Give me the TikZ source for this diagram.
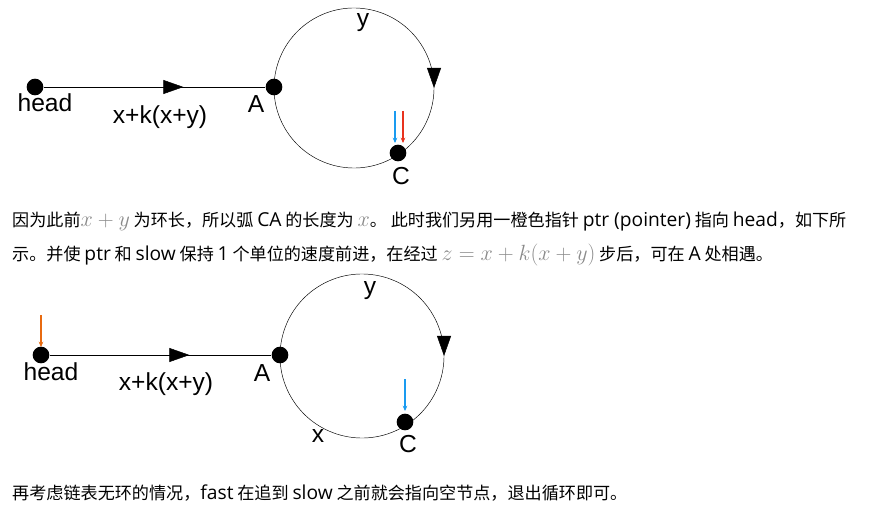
\RequirePackage{fix-cm}
\documentclass[tikz,border=0pt]{standalone}
\usepackage{fontspec}
\setmainfont{Liberation Sans}
\newfontfamily\cjk{Noto Sans CJK SC}
\newfontfamily\lat{Open Sans}
\usepackage{xcolor}
\usetikzlibrary{positioning, arrows.meta, decorations.markings}
\definecolor{ptrblue}{HTML}{1A9BF0}
\definecolor{ptrred}{HTML}{E8321E}
\definecolor{ptrorange}{HTML}{E86A10}
\definecolor{mathgray}{HTML}{8A8A8A}
\newcommand{\mgray}[1]{{\fontsize{18.8}{19}\selectfont\textcolor{mathgray}{$#1$}}}
\newcommand{\en}[1]{{\lat\fontsize{16.4}{18}\selectfont #1}}

\begin{document}
\begin{tikzpicture}[
    x=0.03cm, y=-0.03cm,
    dot/.style={circle, fill=black, inner sep=0pt, minimum size=0.5cm},
    lbl/.style={font=\fontsize{21}{23}\selectfont, inner sep=0pt},
    para/.style={font=\cjk\fontsize{14.6}{16}\selectfont, anchor=west, inner sep=0pt},
    edge/.style={thin, postaction=decorate, decoration={markings,
                 mark=at position 0.63 with {\arrow{Triangle[length=0.6cm, width=0.42cm]}}}},
    ring/.style={thin, postaction=decorate, decoration={markings,
                 mark=at position 0.0833 with {\arrow{Triangle[length=0.6cm, width=0.42cm]}}}},
    ptr/.style={-{Stealth[length=1.6mm, width=1.4mm]}, line width=1pt},
]
\useasboundingbox (0,0) rectangle (878,514);

% First picture: slow and fast meet at C
\coordinate (o1) at (354,88);
\draw[ring] (o1) ++(-30:80) arc (-30:330:80);
\node[dot] (head1) at (35,87) {};
\node[dot] (a1) at (274,87) {};
\node[dot] (c1) at (398,153) {};
\draw[edge] (head1) -- (a1);
\node[lbl] (head1l) at (45,103) {head};
\node[lbl] (len1) at (160,117) {x+k(x+y)};
\node[lbl] (a1l) at (256,104) {A};
\node[lbl] (y1) at (363,23) {y};
\node[lbl] (c1l) at (401,176) {C};
\coordinate (b1s) at (395,111);
\coordinate (b1e) at (395,143);
\coordinate (r1s) at (403,111);
\coordinate (r1e) at (403,143);
\draw[ptr, ptrblue] (b1s) -- (b1e);
\draw[ptr, ptrred] (r1s) -- (r1e);

% Text between pictures
\node[para] (t1) at (12,222) {因为此前\mgray{x+y} 为环长，所以弧 \en{CA} 的长度为 \mgray{x}。 此时我们另用一橙色指针 \en{ptr (pointer)} 指向 \en{head}，如下所};
\node[para] (t2) at (12,255) {示。并使 \en{ptr} 和 \en{slow} 保持 \en{1} 个单位的速度前进，在经过 \mgray{z=x+k(x+y)} 步后，可在 \en{A} 处相遇。};

% Second picture: ptr starts at head
\coordinate (o2) at (362,356);
\draw[ring] (o2) ++(-30:82) arc (-30:330:82);
\node[dot] (head2) at (41,355) {};
\node[dot] (a2) at (280,355) {};
\node[dot] (c2) at (405,422) {};
\draw[edge] (head2) -- (a2);
\node[lbl] (head2l) at (51,372) {head};
\node[lbl] (len2) at (166,384) {x+k(x+y)};
\node[lbl] (a2l) at (262,373) {A};
\node[lbl] (y2) at (370,291) {y};
\node[lbl] (x2) at (318,436) {x};
\node[lbl] (c2l) at (408,444) {C};
\coordinate (o2s) at (41,315);
\coordinate (o2e) at (41,347);
\coordinate (b2s) at (405,379);
\coordinate (b2e) at (405,411);
\draw[ptr, ptrorange] (o2s) -- (o2e);
\draw[ptr, ptrblue] (b2s) -- (b2e);

\node[para] (t3) at (12,493) {再考虑链表无环的情况，\en{fast} 在追到 \en{slow} 之前就会指向空节点，退出循环即可。};

\end{tikzpicture}
\end{document}
